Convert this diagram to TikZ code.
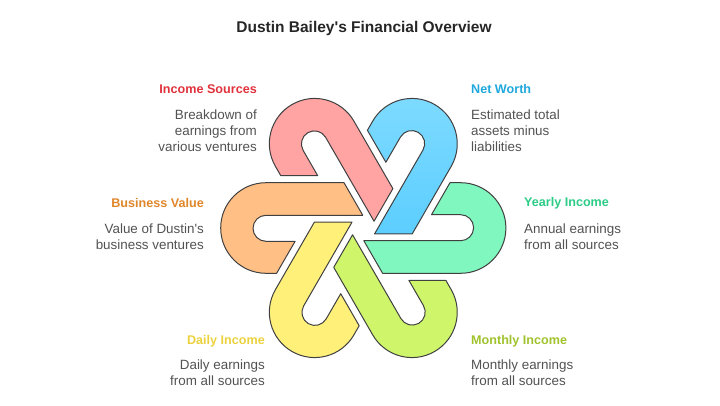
\documentclass[tikz,border=0pt]{standalone}
\usepackage{fontspec}
\setmainfont{Liberation Sans}
\definecolor{yearlycol}{HTML}{80F7BE}
\definecolor{worthcol}{HTML}{7FDBFF}
\definecolor{worthlow}{HTML}{5CCEFF}
\definecolor{sourcescol}{HTML}{FFA3A3}
\definecolor{valuecol}{HTML}{FFBF85}
\definecolor{dailycol}{HTML}{FFF07A}
\definecolor{monthlycol}{HTML}{CFF56B}
\definecolor{sourceshead}{HTML}{E0323C}
\definecolor{valuehead}{HTML}{E0862A}
\definecolor{dailyhead}{HTML}{EBD23C}
\definecolor{worthhead}{HTML}{1EA8DC}
\definecolor{yearlyhead}{HTML}{2CCB86}
\definecolor{monthlyhead}{HTML}{A0C32D}
\newcommand{\ribbonpath}{(86.7,45.3) -- (97.3,45.3) arc[start angle=90,end angle=-90,radius=45.3]
	-- (19.3,-45.3) -- (0.5,-12.7) -- (97.3,-12.7)
	arc[start angle=-90,end angle=90,radius=13] -- (68.2,13.3) -- cycle}
\tikzset{
	ribbon/.style={draw=black!75,line width=1pt,line join=round},
	heading/.style={inner sep=0pt,font=\fontsize{12.6}{16}\selectfont\bfseries},
	blurb/.style={inner sep=0pt,text=black!68,font=\fontsize{13.4}{16}\selectfont},
}
\begin{document}
\begin{tikzpicture}[x=1pt,y=1pt]
		\useasboundingbox (0,0) rectangle (720,405);
		% title
		\node [inner sep=0pt,text=black!85,font=\fontsize{15.5}{19}\selectfont\bfseries] (title) at (364,377) {Dustin Bailey\textquotesingle s Financial Overview};
		% ribbons
		\foreach \ang/\col in {0/yearlycol,120/sourcescol,180/valuecol,240/dailycol,300/monthlycol}
		{
			\begin{scope}[shift={(363.3,177)},rotate=\ang]
				\draw[ribbon,fill=\col] \ribbonpath;
			\end{scope}
		}
		\begin{scope}[shift={(363.3,177)},rotate=60]
			\draw[ribbon,top color=worthcol,middle color=worthcol,bottom color=worthlow] \ribbonpath;
		\end{scope}
		% labels on the left
		\node [heading,anchor=east,text=sourceshead] (sourcesname) at (257,315.7) {Income Sources};
		\node [blurb,anchor=north east,align=right] (sourcestext) at (257,295.5) {Breakdown of\\earnings from\\various ventures};
		\node [heading,anchor=east,text=valuehead] (valuename) at (204,201.7) {Business Value};
		\node [blurb,anchor=north east,align=right] (valuetext) at (204,181.5) {Value of Dustin\textquotesingle s\\business ventures};
		\node [heading,anchor=east,text=dailyhead] (dailyname) at (265,63.7) {Daily Income};
		\node [blurb,anchor=north east,align=right] (dailytext) at (265,45.5) {Daily earnings\\from all sources};
		% labels on the right
		\node [heading,anchor=west,text=worthhead] (worthname) at (471,315.7) {Net Worth};
		\node [blurb,anchor=north west,align=left] (worthtext) at (471,295.5) {Estimated total\\assets minus\\liabilities};
		\node [heading,anchor=west,text=yearlyhead] (yearlyname) at (524,201.7) {Yearly Income};
		\node [blurb,anchor=north west,align=left] (yearlytext) at (524,181.5) {Annual earnings\\from all sources};
		\node [heading,anchor=west,text=monthlyhead] (monthlyname) at (471,64.2) {Monthly Income};
		\node [blurb,anchor=north west,align=left] (monthlytext) at (471,45.5) {Monthly earnings\\from all sources};
	\end{tikzpicture}
\end{document}
